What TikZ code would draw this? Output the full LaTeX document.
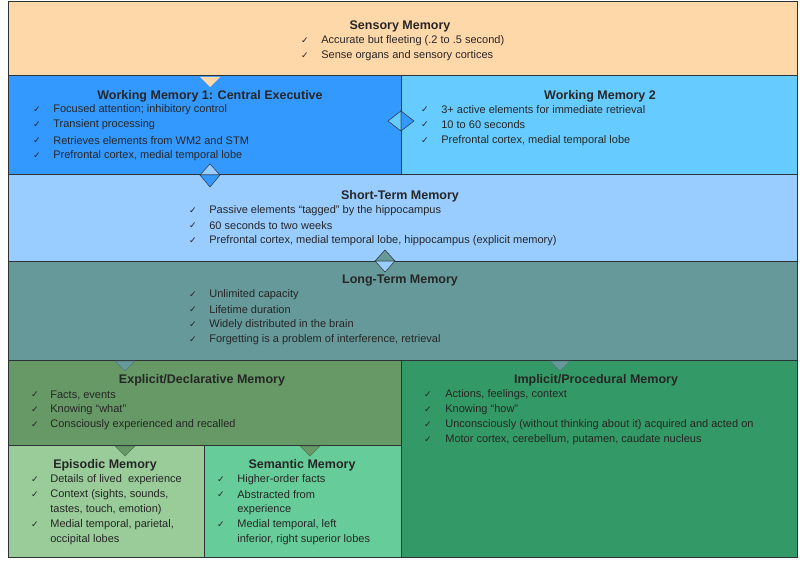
\documentclass[tikz,border=0pt]{standalone}
\usepackage{fontspec}
\setmainfont{Liberation Sans}
\newfontfamily\tickfont{DejaVu Sans}
\tikzset{every picture/.style={line width=0.75pt}}
\definecolor{cSens}{RGB}{255,216,170}
\definecolor{cWMa}{RGB}{51,153,255}
\definecolor{cWMb}{RGB}{102,204,255}
\definecolor{cSTM}{RGB}{153,204,255}
\definecolor{cLTM}{RGB}{102,153,153}
\definecolor{cExp}{RGB}{102,153,102}
\definecolor{cImp}{RGB}{51,153,102}
\definecolor{cEpi}{RGB}{153,204,153}
\definecolor{cSem}{RGB}{102,204,153}
\definecolor{cLine}{RGB}{45,50,55}
\newcommand{\tk}{{\tickfont\fontsize{9}{9}\selectfont ✓}}
\tikzset{
  box/.style={draw=cLine, line width=1pt},
  ttl/.style={inner sep=0pt, font=\fontsize{12.5}{14}\selectfont\bfseries, text=black!85},
  itm/.style={anchor=west, inner sep=0pt, font=\fontsize{11}{13}\selectfont, text=black!85},
  tck/.style={anchor=center, inner sep=0pt, text=black!85},
  joint/.style={draw=cLine, line width=0.5pt}
}
\newcommand{\itm}[5]{\node [tck] (#1t) at (#2-10,#4) {\tk}; \node [itm] (#1) at (#2+#3-10,#4) {#5};}

\begin{document}
\begin{tikzpicture}[x=1pt,y=1pt,yscale=-1]
\useasboundingbox (0,0) rectangle (800,564);

% boxes
\draw [box, fill=cSens] (8,2) rectangle (797,76);
\draw [box, fill=cWMa] (8,76) rectangle (401,175);
\draw [box, fill=cWMb] (401,76) rectangle (797,175);
\draw [box, fill=cSTM] (8,175) rectangle (797,261);
\draw [box, fill=cLTM] (8,261) rectangle (797,360);
\draw [box, fill=cExp] (8,360) rectangle (401,445);
\draw [box, fill=cImp] (401,360) rectangle (797,557);
\draw [box, fill=cEpi] (8,445) rectangle (204,557);
\draw [box, fill=cSem] (204,445) rectangle (401,557);

% joints
\fill [cSens] (200,77) -- (220,77) -- (210,87) -- cycle;
\draw [joint, fill=cWMb] (401,111) -- (388,121) -- (401,131) -- cycle;
\draw [joint, fill=cWMa] (401,111) -- (414,121) -- (401,131) -- cycle;
\draw [joint, fill=cSTM] (200,175) -- (210,164) -- (220,175) -- cycle;
\draw [joint, fill=cWMa] (200,175) -- (210,187) -- (220,175) -- cycle;
\draw [joint, fill=cLTM] (375,261) -- (385,250) -- (395,261) -- cycle;
\draw [joint, fill=cSTM] (375,261) -- (385,272) -- (395,261) -- cycle;
\draw [joint, draw=cLTM!80!black, fill=cLTM] (115,361) -- (135,361) -- (125,371) -- cycle;
\draw [joint, draw=cLTM!80!black, fill=cLTM] (550,361) -- (570,361) -- (560,371) -- cycle;
\draw [joint, draw=cExp!80!black, fill=cExp] (115,446) -- (135,446) -- (125,456) -- cycle;
\draw [joint, draw=cExp!80!black, fill=cExp] (300,446) -- (320,446) -- (310,456) -- cycle;

% Sensory Memory
\node [ttl] (sens) at (400,26) {Sensory Memory};
\itm{sensA}{315}{16}{41}{Accurate but fleeting (.2 to .5 second)}
\itm{sensB}{315}{16}{56}{Sense organs and sensory cortices}

% Working Memory 1
\node [ttl] (wma) at (210,96) {Working Memory 1: Central Executive};
\itm{wmaA}{47}{16}{110}{Focused attention; inhibitory control}
\itm{wmaB}{47}{16}{125}{Transient processing}
\itm{wmaC}{47}{16}{141}{Retrieves elements from WM2 and STM}
\itm{wmaD}{47}{16}{156}{Prefrontal cortex, medial temporal lobe}

% Working Memory 2
\node [ttl] (wmb) at (600,96) {Working Memory 2};
\itm{wmbA}{435}{16}{110}{3+ active elements for immediate retrieval}
\itm{wmbB}{435}{16}{125}{10 to 60 seconds}
\itm{wmbC}{435}{16}{141}{Prefrontal cortex, medial temporal lobe}

% Short-Term Memory
\node [ttl] (stm) at (400,196) {Short-Term Memory};
\itm{stmA}{203}{16}{211}{Passive elements “tagged” by the hippocampus}
\itm{stmB}{203}{16}{226}{60 seconds to two weeks}
\itm{stmC}{203}{16}{241}{Prefrontal cortex, medial temporal lobe, hippocampus (explicit memory)}

% Long-Term Memory
\node [ttl] (ltm) at (400,281) {Long-Term Memory};
\itm{ltmA}{203}{16}{295}{Unlimited capacity}
\itm{ltmB}{203}{16}{310}{Lifetime duration}
\itm{ltmC}{203}{16}{325}{Widely distributed in the brain}
\itm{ltmD}{203}{16}{340}{Forgetting is a problem of interference, retrieval}

% Explicit
\node [ttl] (exp) at (202,380) {Explicit/Declarative Memory};
\itm{expA}{45}{15}{395}{Facts, events}
\itm{expB}{45}{15}{410}{Knowing “what”}
\itm{expC}{45}{15}{425}{Consciously experienced and recalled}

% Implicit
\node [ttl] (imp) at (596,380) {Implicit/Procedural Memory};
\itm{impA}{438}{17}{395}{Actions, feelings, context}
\itm{impB}{438}{17}{410}{Knowing “how”}
\itm{impC}{438}{17}{425}{Unconsciously (without thinking about it) acquired and acted on}
\itm{impD}{438}{17}{440}{Motor cortex, cerebellum, putamen, caudate nucleus}

% Episodic
\node [ttl] (epi) at (105,465) {Episodic Memory};
\itm{epiA}{45}{15}{480}{Details of lived\ \ experience}
\itm{epiB}{45}{15}{495}{Context (sights, sounds,}
\node [itm] (epiB2) at (50,510) {tastes, touch, emotion)};
\itm{epiC}{45}{15}{525}{Medial temporal, parietal,}
\node [itm] (epiC2) at (50,540) {occipital lobes};

% Semantic
\node [ttl] (sem) at (302,465) {Semantic Memory};
\itm{semA}{231}{16}{480}{Higher-order facts}
\itm{semB}{231}{16}{495}{Abstracted from}
\node [itm] (semB2) at (237,510) {experience};
\itm{semC}{231}{16}{525}{Medial temporal, left}
\node [itm] (semC2) at (237,540) {inferior, right superior lobes};
\end{tikzpicture}
\end{document}
